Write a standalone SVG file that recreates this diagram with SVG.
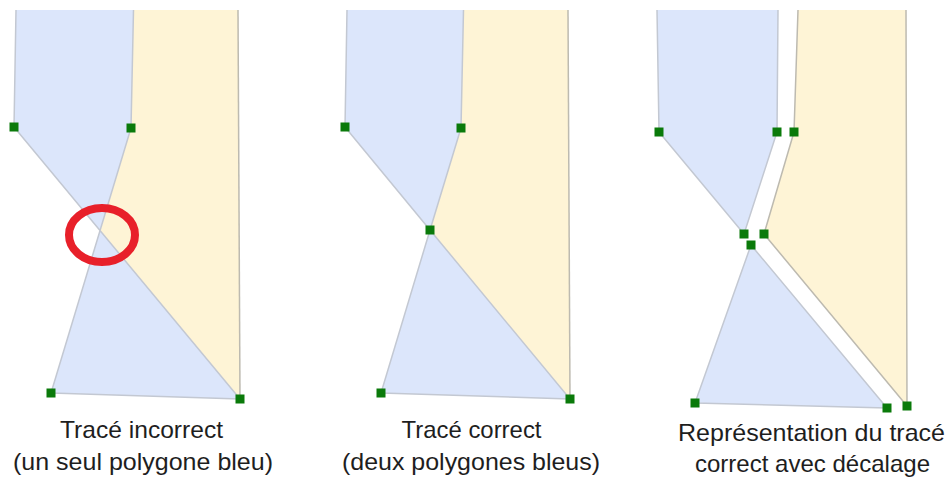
<svg xmlns="http://www.w3.org/2000/svg" width="951" height="483" viewBox="0 0 951 483">
  <style>
    .blue { fill: #dce6fb; stroke: none; }
    .yellow { fill: #fef4d6; stroke: none; }
    .edge-b { fill: none; stroke: #c3c8d2; stroke-width: 1.5; stroke-linejoin: round; }
    .edge-y { fill: none; stroke: #bdbab0; stroke-width: 1.5; stroke-linejoin: round; }
    .vtx { fill: #0a7a0a; }
    .cap { font-family: "Liberation Sans", Arial, sans-serif; font-size: 24px; fill: #1e1e1e; text-anchor: middle; }
    .mark { fill: none; stroke: #e8202a; stroke-width: 8; }
  </style>
  <defs>
    <rect id="sq" x="-4.5" y="-4.5" width="9" height="9" class="vtx"/>
  </defs>

  <!-- Left: one self-intersecting blue polygon -->
  <g id="panel-incorrect">
    <polygon class="yellow" points="133.5,10 238,10 240,399 100.5,230.5 131,128"/>
    <polygon class="blue" points="16,10 14,127 240,399 51,393 131,128 133.5,10"/>
    <path class="edge-y" d="M238,10 L240,399"/>
    <path class="edge-b" d="M16,10 L14,127 L240,399 L51,393 L131,128 L133.5,10"/>
    <ellipse class="mark" cx="102" cy="235" rx="33" ry="27"/>
    <g id="vertices-incorrect">
      <use href="#sq" x="14" y="127"/>
      <use href="#sq" x="131" y="128"/>
      <use href="#sq" x="51" y="393"/>
      <use href="#sq" x="240" y="399"/>
    </g>
    <text class="cap" x="141.5" y="438" textLength="163" lengthAdjust="spacingAndGlyphs">Tracé incorrect</text>
    <text class="cap" x="143" y="470" textLength="260" lengthAdjust="spacingAndGlyphs">(un seul polygone bleu)</text>
  </g>

  <!-- Middle: two blue polygons meeting at one vertex -->
  <g id="panel-correct">
    <polygon class="yellow" points="463.5,10 568,10 570,399 430,230 461,128"/>
    <polygon class="blue" points="347,10 345,127 430,230 461,128 463.5,10"/>
    <polygon class="blue" points="430,230 570,399 381,393"/>
    <path class="edge-y" d="M568,10 L570,399"/>
    <path class="edge-b" d="M347,10 L345,127 L430,230 L461,128 L463.5,10"/>
    <path class="edge-b" d="M430,230 L570,399 L381,393 Z"/>
    <g id="vertices-correct">
      <use href="#sq" x="345" y="127"/>
      <use href="#sq" x="461" y="128"/>
      <use href="#sq" x="430" y="230"/>
      <use href="#sq" x="381" y="393"/>
      <use href="#sq" x="570" y="399"/>
    </g>
    <text class="cap" x="471.5" y="438" textLength="140" lengthAdjust="spacingAndGlyphs">Tracé correct</text>
    <text class="cap" x="471" y="470" textLength="258" lengthAdjust="spacingAndGlyphs">(deux polygones bleus)</text>
  </g>

  <!-- Right: same shapes drawn with an offset between them -->
  <g id="panel-offset">
    <polygon class="yellow" points="798,10 906,10 907,406 764,234 794,132"/>
    <polygon class="blue" points="657,10 659,132 744,234 777,132 778,10"/>
    <polygon class="blue" points="751,245 887,408 695,403"/>
    <path class="edge-y" d="M906,10 L907,406 L764,234 L794,132 L798,10"/>
    <path class="edge-b" d="M657,10 L659,132 L744,234 L777,132 L778,10"/>
    <path class="edge-b" d="M751,245 L887,408 L695,403 Z"/>
    <g id="vertices-offset">
      <use href="#sq" x="659" y="132"/>
      <use href="#sq" x="777" y="132"/>
      <use href="#sq" x="794" y="132"/>
      <use href="#sq" x="744" y="234"/>
      <use href="#sq" x="764" y="234"/>
      <use href="#sq" x="751" y="245"/>
      <use href="#sq" x="695" y="403"/>
      <use href="#sq" x="887" y="408"/>
      <use href="#sq" x="907" y="406"/>
    </g>
    <text class="cap" x="811.5" y="441" textLength="267" lengthAdjust="spacingAndGlyphs">Représentation du tracé</text>
    <text class="cap" x="812.5" y="472" textLength="235" lengthAdjust="spacingAndGlyphs">correct avec décalage</text>
  </g>

  <!-- no connectors in this figure -->
  <g id="connectors"/>
</svg>
